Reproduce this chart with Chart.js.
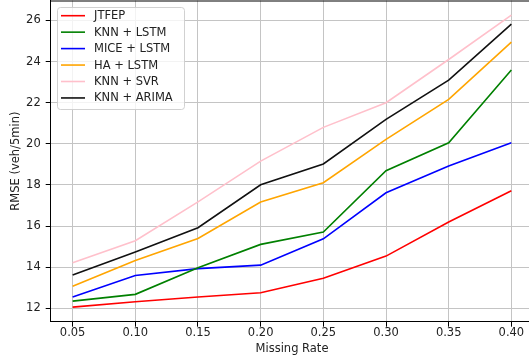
<!DOCTYPE html>
<html>
<head>
<meta charset="utf-8">
<script src="https://cdn.jsdelivr.net/npm/chart.js@4/dist/chart.umd.min.js"></script>
<style>
  html, body { margin: 0; padding: 0; background: #fff; overflow: hidden; }
  canvas { display: block; }
</style>
</head>
<body>
<canvas id="graph" width="560" height="360"></canvas>
<script>
// missing rate on the x axis
const missingRates = [0.05, 0.10, 0.15, 0.20, 0.25, 0.30, 0.35, 0.40]
const xTicks = [0.05, 0.10, 0.15, 0.20, 0.25, 0.30, 0.35, 0.40]
const yTicks = [12, 14, 16, 18, 20, 22, 24, 26]

// RMSE values
const jtfep = [12.06, 12.32, 12.55, 12.76, 13.46, 14.54, 16.20, 17.72]
const knnLstm = [12.35, 12.68, 13.97, 15.11, 15.71, 18.69, 20.05, 23.59]
const miceLstm = [12.55, 13.60, 13.93, 14.10, 15.38, 17.62, 18.92, 20.05]
const haLstm = [13.07, 14.33, 15.40, 17.17, 18.11, 20.22, 22.16, 24.95]
const knnSvr = [14.22, 15.29, 17.18, 19.16, 20.80, 22.00, 24.10, 26.26]
const knnArima = [13.62, 14.74, 15.92, 18.01, 19.02, 21.19, 23.10, 25.82]

const font = 'DejaVu Sans'
const fontSize = 11.5

function points(values) {
    return values.map((v, i) => ({ x: missingRates[i], y: v }))
}

function line(label, values, color) {
    return {
        label: label,
        data: points(values),
        borderColor: color,
        backgroundColor: color,
        borderWidth: 1.6,
        pointRadius: 0,
        tension: 0,
    }
}

// matplotlib style legend box in the upper left of the plot
const boxLegend = {
    id: 'boxLegend',
    afterDatasetsDraw(chart) {
        const ctx = chart.ctx
        const x0 = 57, y0 = 7, w = 127, h = 102
        ctx.save()
        ctx.beginPath()
        ctx.roundRect(x0 + 0.5, y0 + 0.5, w, h, 3)
        ctx.fillStyle = 'rgba(255,255,255,0.8)'
        ctx.fill()
        ctx.strokeStyle = 'rgba(204,204,204,0.9)'
        ctx.lineWidth = 1
        ctx.stroke()
        ctx.font = fontSize + 'px "' + font + '"'
        ctx.textBaseline = 'middle'
        ctx.fillStyle = '#222'
        chart.data.datasets.forEach((ds, i) => {
            const y = 15.7 + i * 16.45
            ctx.beginPath()
            ctx.moveTo(61, y)
            ctx.lineTo(85, y)
            ctx.strokeStyle = ds.borderColor
            ctx.lineWidth = 1.6
            ctx.stroke()
            ctx.fillText(ds.label, 94, y + 0.5)
        })
        ctx.restore()
    }
}

// top spine
const topSpine = {
    id: 'topSpine',
    beforeDatasetsDraw(chart) {
        const a = chart.chartArea
        const ctx = chart.ctx
        ctx.save()
        ctx.beginPath()
        ctx.moveTo(a.left, a.top + 0.5)
        ctx.lineTo(a.right, a.top + 0.5)
        ctx.strokeStyle = '#000'
        ctx.lineWidth = 1
        ctx.stroke()
        ctx.restore()
    }
}

function noPadding(scale) {
    scale.paddingTop = 0
    scale.paddingBottom = 0
    scale.paddingLeft = 0
    scale.paddingRight = 0
}

let graph = document.getElementById('graph').getContext('2d')

new Chart(graph, {
    type: 'line',
    data: {
        datasets: [
            line('JTFEP', jtfep, '#ff0000'),
            line('KNN + LSTM', knnLstm, '#008000'),
            line('MICE + LSTM', miceLstm, '#0000ff'),
            line('HA + LSTM', haLstm, '#ffa500'),
            line('KNN + SVR', knnSvr, '#ffc0cb'),
            line('KNN + ARIMA', knnArima, '#111111'),
        ]
    },
    options: {
        responsive: false,
        devicePixelRatio: 1,
        animation: false,
        layout: { padding: { left: 0, right: 26.7, top: 0.5, bottom: 0 } },
        plugins: {
            legend: { display: false },
            tooltip: { enabled: false },
        },
        scales: {
            x: {
                type: 'linear',
                min: 0.0325,
                max: 0.4175,
                afterBuildTicks: (scale) => { scale.ticks = xTicks.map(v => ({ value: v })) },
                afterFit: (scale) => { scale.height = 38.3; noPadding(scale) },
                ticks: {
                    callback: (v) => v.toFixed(2),
                    color: '#222',
                    font: { family: font, size: fontSize },
                    padding: -1,
                    maxRotation: 0,
                    autoSkip: false,
                },
                grid: { color: '#c4c4c4', lineWidth: 1, tickLength: 5, tickColor: '#000' },
                border: { color: '#000', width: 1 },
                title: {
                    display: true,
                    text: 'Missing Rate',
                    color: '#222',
                    font: { family: font, size: fontSize },
                    padding: { top: 0, bottom: 4 },
                },
            },
            y: {
                type: 'linear',
                min: 11.35,
                max: 26.97,
                afterBuildTicks: (scale) => { scale.ticks = yTicks.map(v => ({ value: v })) },
                afterFit: (scale) => { scale.width = 50.7; noPadding(scale) },
                ticks: {
                    callback: (v) => String(v),
                    color: '#222',
                    font: { family: font, size: fontSize },
                    padding: 5,
                    autoSkip: false,
                },
                grid: { color: '#c4c4c4', lineWidth: 1, tickLength: 5, tickColor: '#000' },
                border: { color: '#000', width: 1 },
                title: {
                    display: true,
                    text: 'RMSE (veh/5min)',
                    color: '#222',
                    font: { family: font, size: fontSize },
                    padding: { top: 9.5, bottom: 0 },
                },
            },
        },
    },
    plugins: [topSpine, boxLegend],
})
</script>
</body>
</html>
